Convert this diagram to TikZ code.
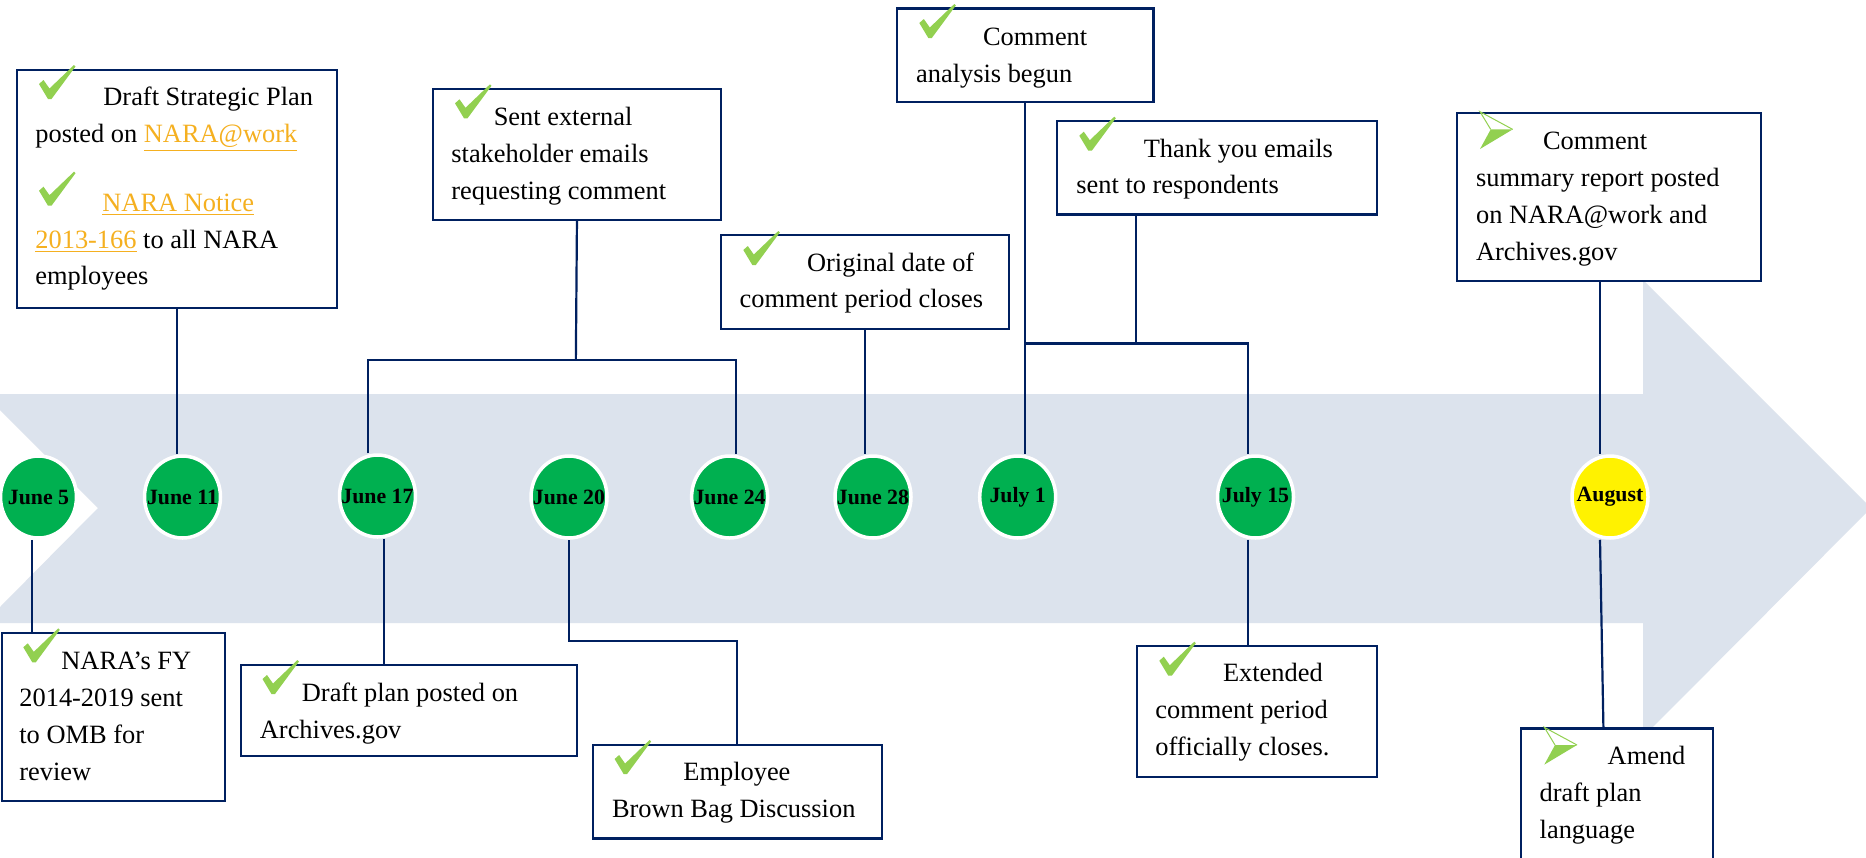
\documentclass[tikz,border=0pt]{standalone}
\usepackage{fontspec}
\setmainfont{Liberation Serif}
\usetikzlibrary{shapes.geometric,calc}
\definecolor{navy}{HTML}{002060}
\definecolor{dgreen}{HTML}{00B050}
\definecolor{lgreen}{HTML}{92D050}
\definecolor{bgarrow}{HTML}{DCE3ED}
\definecolor{linkc}{RGB}{245,176,32}
\newcommand\lnk[1]{\textcolor{linkc}{\underline{#1}}}
\newcommand\fl{\rule{0pt}{10pt}}
\pgfdeclarelayer{back}
\pgfdeclarelayer{lines}
\pgfsetlayers{back,lines,main}
\begin{document}
\begin{tikzpicture}[x=0.5pt,y=-0.5pt,
 box/.style={draw=navy, line width=1.1pt, fill=white, rectangle, inner sep=0pt, anchor=north west},
 txt/.style={anchor=north west, inner sep=0pt, align=left, font=\fontsize{13.2}{18.4}\selectfont},
 conn/.style={draw=navy, line width=1.1pt},
 datec/.style={ellipse, fill=dgreen, draw=white, line width=1.75pt, minimum width=38pt, minimum height=41pt, inner sep=0pt, font=\fontsize{10.9}{12}\selectfont\bfseries},
 chk/.pic={\fill[lgreen] (0,19) -- (4.5,15) -- (10.5,23.5) -- (35,0) -- (36.5,1.5) -- (12.5,34) -- (9,34) -- cycle;},
 plan/.pic={\fill[lgreen] (10.7,17.7) -- (32.7,17.7) -- (0,37.3) -- cycle;
            \draw[lgreen, line width=0.5pt, line join=miter] (10.7,17.7) -- (0,0) -- (32.7,17.7);}
]
\useasboundingbox (0,0) rectangle (1866,857);
\clip (0,0) rectangle (1866,857);

\begin{pgfonlayer}{back}
\fill[white] (0,0) rectangle (1866,857);
\fill[bgarrow] (0,394) -- (1643,394) -- (1643,280) -- (1871,508) -- (1643,737) -- (1643,623)
  -- (0,623) -- (0,607) -- (98,508) -- (0,410) -- cycle;
\end{pgfonlayer}

% boxes
\node[box, minimum width=160pt, minimum height=119pt] (b1) at (16,69) {};
\node[box, minimum width=144.15pt, minimum height=65.65pt] (b2) at (431.7,87.7) {};
\node[box, minimum width=143.85pt, minimum height=46.85pt] (b3) at (720,234) {};
\node[box, minimum width=128.3pt, minimum height=46.85pt] (b4) at (895.7,7.3) {};
\node[box, minimum width=160.15pt, minimum height=46.65pt] (b5) at (1055.7,120) {};
\node[box, minimum width=152.15pt, minimum height=84.15pt] (b6) at (1455.7,111.7) {};
\node[box, minimum width=111.5pt, minimum height=84pt] (b7) at (1,632) {};
\node[box, minimum width=168.25pt, minimum height=45.5pt] (b8) at (239.5,664) {};
\node[box, minimum width=144.25pt, minimum height=46.65pt] (b9) at (592,744) {};
\node[box, minimum width=120.15pt, minimum height=65.35pt] (b10) at (1135.7,645) {};
\node[box, minimum width=96pt, minimum height=75pt] (b11) at (1520,727.3) {};

% date circles
\node[datec] (c5) at (38.5,497) {\makebox[0pt]{June 5}};
\node[datec] (c11) at (182.5,497) {\makebox[0pt]{June 11}};
\node[datec] (c17) at (377.5,496) {\makebox[0pt]{June 17}};
\node[datec] (c20) at (569,497) {\makebox[0pt]{June 20}};
\node[datec] (c24) at (729.6,497) {\makebox[0pt]{June 24}};
\node[datec] (c28) at (873,497) {\makebox[0pt]{June 28}};
\node[datec] (c1) at (1017.7,497) {\makebox[0pt]{July 1}};
\node[datec] (c15) at (1255.5,497) {\makebox[0pt]{July 15}};
\node[datec, fill=yellow] (cA) at (1610,497) {\makebox[0pt]{August}};

% connectors
\begin{pgfonlayer}{lines}
\path ($(c5.south)+(-6.5,0)$) coordinate (p5);
\draw[conn] (p5) -- (p5 |- b7.north);
\draw[conn] (b1.south) -- (b1.south |- c11.north);
\coordinate (j1) at (575.85,360);
\draw[conn] (b2.south) -- (j1);
\path ($(c17.north)+(-9.5,0)$) coordinate (p17);
\path ($(c24.north)+(6.1,0)$) coordinate (p24);
\draw[conn] (p17) |- (j1) -| (p24);
\path ($(c17.south)+(6.5,0)$) coordinate (q17);
\draw[conn] (q17) -- (q17 |- b8.north);
\coordinate (j2) at (650,641);
\draw[conn] (c20.south) |- (j2) -| (b9.north);
\draw[conn] (b3.south) -- (b3.south |- c28.north);
\draw[conn] (b4.south) -- (b4.south |- c1.north);
\coordinate (j3) at (1024,343.5);
\path ($(c15.north)+(-7.8,0)$) coordinate (p15);
\draw[conn] (j3) -| (p15);
\coordinate (j4) at (1135.7,343.5);
\draw[conn] (j4 |- b5.south) -- (j4);
\path ($(c15.south)+(-7.8,0)$) coordinate (q15);
\draw[conn] (q15) -- (q15 |- b10.north);
\path ($(cA.north)+(-10,0)$) coordinate (pA);
\draw[conn] (pA |- b6.south) -- (pA);
\path ($(cA.south)+(-10,0)$) coordinate (qA);
\draw[conn] (qA) -- ($(b11.north)+(-13.7,0)$);
\end{pgfonlayer}

% texts
\node[txt] (t1) at (35,85) {\fl\hspace*{34pt}Draft Strategic Plan\\posted on \lnk{NARA@work}\\[16.1pt]\hspace*{33.5pt}\lnk{NARA Notice}\\\lnk{2013-166} to all NARA\\employees};
\node[txt] (t2) at (451,105) {\fl\hspace*{21.2pt}Sent external\\stakeholder emails\\requesting comment};
\node[txt] (t3) at (739.3,250.7) {\fl\hspace*{33.7pt}Original date of\\comment period closes};
\node[txt] (t4) at (915.7,25) {\fl\hspace*{33.5pt}Comment\\analysis begun};
\node[txt] (t5) at (1076,136.7) {\fl\hspace*{33.7pt}Thank you emails\\sent to respondents};
\node[txt] (t6) at (1475.7,129.3) {\fl\hspace*{33.5pt}Comment\\summary report posted\\on NARA@work and\\Archives.gov};
\node[txt] (t7) at (19,649.3) {\fl\hspace*{21pt}NARA’s FY\\2014-2019 sent\\to OMB for\\review};
\node[txt] (t8) at (259.5,681) {\fl\hspace*{21pt}Draft plan posted on\\Archives.gov};
\node[txt] (t9) at (611.6,760) {\fl\hspace*{35.7pt}Employee\\Brown Bag Discussion};
\node[txt] (t10) at (1155,661) {\fl\hspace*{33.8pt}Extended\\comment period\\officially closes.};
\node[txt] (t11) at (1539.3,744) {\fl\hspace*{34pt}Amend\\draft plan\\language};

% check marks and plan arrows
\pic at (39,65) {chk};
\pic at (39,171.7) {chk};
\pic at (455,84.3) {chk};
\pic at (743.3,231) {chk};
\pic at (919.3,4) {chk};
\pic at (1079.3,116.7) {chk};
\pic at (23.3,628.3) {chk};
\pic at (262.5,660) {chk};
\pic at (614.6,740) {chk};
\pic at (1159.3,641.7) {chk};
\pic at (1480,111.7) {plan};
\pic at (1544.3,727.3) {plan};
\end{tikzpicture}
\end{document}
